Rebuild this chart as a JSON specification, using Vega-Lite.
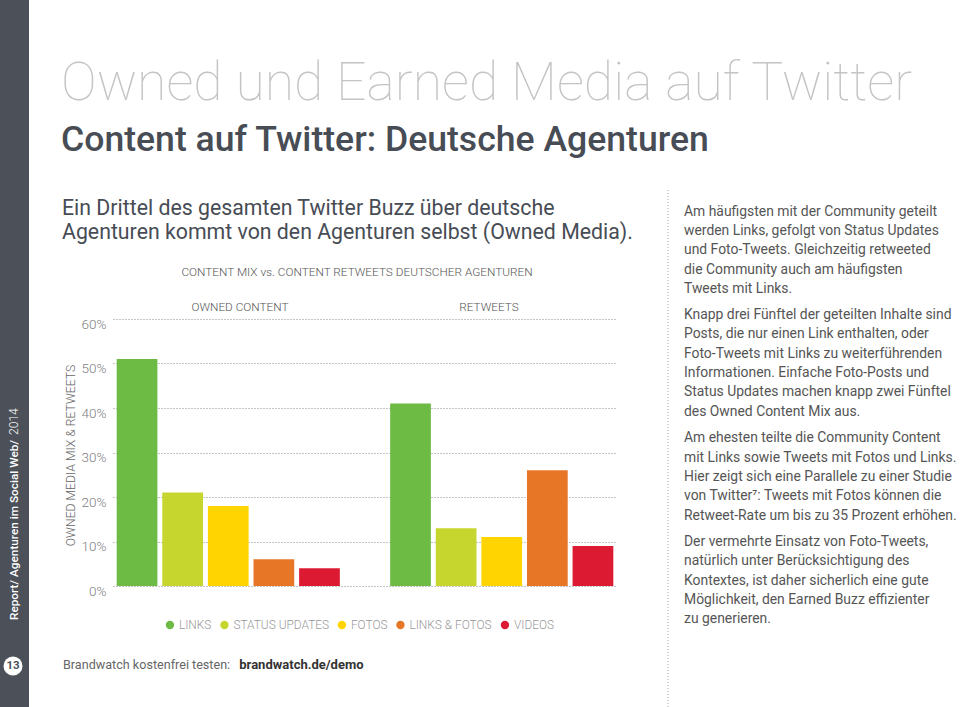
{
  "$schema": "https://vega.github.io/schema/vega-lite/v6.json",
  "autosize": "none",
  "width": 504,
  "height": 267,
  "padding": {"left": 113, "top": 319, "right": 343, "bottom": 121},
  "background": "white",
  "config": {
    "view": {"stroke": null},
    "font": "Roboto",
    "text": {"font": "Roboto"}
  },
  "layer": [
    {
      "data": {"values": [
        {"group": "Owned Content", "type": "LINKS", "value": 51},
        {"group": "Owned Content", "type": "STATUS UPDATES", "value": 21},
        {"group": "Owned Content", "type": "FOTOS", "value": 18},
        {"group": "Owned Content", "type": "LINKS & FOTOS", "value": 6},
        {"group": "Owned Content", "type": "VIDEOS", "value": 4},
        {"group": "Retweets", "type": "LINKS", "value": 41},
        {"group": "Retweets", "type": "STATUS UPDATES", "value": 13},
        {"group": "Retweets", "type": "FOTOS", "value": 11},
        {"group": "Retweets", "type": "LINKS & FOTOS", "value": 26},
        {"group": "Retweets", "type": "VIDEOS", "value": 9}
      ]},
      "mark": {"type": "bar"},
      "encoding": {
        "x": {"field": "group", "type": "nominal", "axis": null,
              "scale": {"domain": ["Owned Content", "Retweets"], "paddingInner": 0.184, "paddingOuter": 0.0135}},
        "xOffset": {"field": "type", "type": "nominal",
              "scale": {"domain": ["LINKS", "STATUS UPDATES", "FOTOS", "LINKS & FOTOS", "VIDEOS"], "paddingInner": 0.107, "paddingOuter": 0}},
        "y": {"field": "value", "type": "quantitative",
              "scale": {"domain": [0, 60], "nice": false},
              "axis": {
                "values": [0, 10, 20, 30, 40, 50, 60],
                "labelExpr": "datum.value + '%'",
                "domain": false, "ticks": false,
                "grid": true, "gridDash": [1, 2], "gridColor": "#8a8a8a", "gridWidth": 1,
                "labelFont": "Roboto", "labelFontWeight": 300, "labelFontSize": 13.5, "labelColor": "#808080",
                "labelPadding": 7, "labelOffset": 5,
                "title": "OWNED MEDIA MIX & RETWEETS",
                "titleFont": "Roboto", "titleFontWeight": 300, "titleFontSize": 12.2, "titleColor": "#666666",
                "titleX": -43, "titleY": 136, "titleAngle": 270, "titleAlign": "center", "titleBaseline": "middle"
              }},
        "color": {"field": "type", "type": "nominal",
              "scale": {"domain": ["LINKS", "STATUS UPDATES", "FOTOS", "LINKS & FOTOS", "VIDEOS"],
                        "range": ["#6dba45", "#c6d62e", "#ffd400", "#e77626", "#dc1a32"]},
              "legend": {
                "orient": "none", "legendX": 51, "legendY": 300, "direction": "horizontal",
                "title": null, "symbolType": "circle", "symbolSize": 70, "symbolStrokeWidth": 0,
                "labelFont": "Roboto", "labelFontWeight": 300, "labelFontSize": 11.9, "labelColor": "#999999",
                "labelOffset": 3, "columnPadding": 6.5, "padding": 0
              }}
      }
    },
    {
      "data": {"values": [{"t": "OWNED CONTENT"}]},
      "mark": {"type": "text", "align": "center", "baseline": "middle", "fontSize": 11.8, "fontWeight": 300, "color": "#555555"},
      "encoding": {"text": {"field": "t"}, "x": {"value": 127}, "y": {"value": -12.3}}
    },
    {
      "data": {"values": [{"t": "RETWEETS"}]},
      "mark": {"type": "text", "align": "center", "baseline": "middle", "fontSize": 11.8, "fontWeight": 300, "color": "#555555"},
      "encoding": {"text": {"field": "t"}, "x": {"value": 376}, "y": {"value": -12.3}}
    },
    {
      "data": {"values": [{"t": "CONTENT MIX vs. CONTENT RETWEETS DEUTSCHER AGENTUREN"}]},
      "mark": {"type": "text", "align": "center", "baseline": "middle", "fontSize": 11.8, "fontWeight": 300, "color": "#555555"},
      "encoding": {"text": {"field": "t"}, "x": {"value": 244}, "y": {"value": -47}}
    },
    {
      "data": {"values": [{"t": "x"}]},
      "mark": {"type": "rect", "color": "#4b5059"},
      "encoding": {"x": {"value": -113}, "x2": {"value": -84}, "y": {"value": -319}, "y2": {"value": 388}}
    },
    {
      "data": {"values": [{"t": "Owned und Earned Media auf Twitter"}]},
      "mark": {"type": "text", "align": "left", "baseline": "alphabetic", "fontSize": 53.5, "fontWeight": 100, "color": "#c4c4c4"},
      "encoding": {"text": {"field": "t"}, "x": {"value": -52}, "y": {"value": -219}}
    },
    {
      "data": {"values": [{"t": "Content auf Twitter: Deutsche Agenturen"}]},
      "mark": {"type": "text", "align": "left", "baseline": "alphabetic", "fontSize": 35.6, "fontWeight": 500, "color": "#474c55"},
      "encoding": {"text": {"field": "t"}, "x": {"value": -52}, "y": {"value": -168}}
    },
    {
      "data": {"values": [{"t": "Ein Drittel des gesamten Twitter Buzz über deutsche\nAgenturen kommt von den Agenturen selbst (Owned Media)."}]},
      "mark": {"type": "text", "align": "left", "baseline": "alphabetic", "fontSize": 21.3, "fontWeight": 400, "color": "#474c55", "lineBreak": "\n", "lineHeight": 24},
      "encoding": {"text": {"field": "t"}, "x": {"value": -51}, "y": {"value": -104.5}}
    },
    {
      "data": {"values": [{"t": "Am häufigsten mit der Community geteilt\nwerden Links, gefolgt von Status Updates\nund Foto-Tweets. Gleichzeitig retweeted\ndie Community auch am häufigsten\nTweets mit Links."}]},
      "mark": {"type": "text", "align": "left", "baseline": "alphabetic", "fontSize": 13.9, "fontWeight": 400, "color": "#555555", "lineBreak": "\n", "lineHeight": 19.35},
      "encoding": {"text": {"field": "t"}, "x": {"value": 571}, "y": {"value": -103.3}}
    },
    {
      "data": {"values": [{"t": "Knapp drei Fünftel der geteilten Inhalte sind\nPosts, die nur einen Link enthalten, oder\nFoto-Tweets mit Links zu weiterführenden\nInformationen. Einfache Foto-Posts und\nStatus Updates machen knapp zwei Fünftel\ndes Owned Content Mix aus."}]},
      "mark": {"type": "text", "align": "left", "baseline": "alphabetic", "fontSize": 13.9, "fontWeight": 400, "color": "#555555", "lineBreak": "\n", "lineHeight": 19.35},
      "encoding": {"text": {"field": "t"}, "x": {"value": 571}, "y": {"value": 0}}
    },
    {
      "data": {"values": [{"t": "Am ehesten teilte die Community Content\nmit Links sowie Tweets mit Fotos und Links.\nHier zeigt sich eine Parallele zu einer Studie\nvon Twitter⁷: Tweets mit Fotos können die\nRetweet-Rate um bis zu 35 Prozent erhöhen."}]},
      "mark": {"type": "text", "align": "left", "baseline": "alphabetic", "fontSize": 13.9, "fontWeight": 400, "color": "#555555", "lineBreak": "\n", "lineHeight": 19.35},
      "encoding": {"text": {"field": "t"}, "x": {"value": 571}, "y": {"value": 123.3}}
    },
    {
      "data": {"values": [{"t": "Der vermehrte Einsatz von Foto-Tweets,\nnatürlich unter Berücksichtigung des\nKontextes, ist daher sicherlich eine gute\nMöglichkeit, den Earned Buzz effizienter\nzu generieren."}]},
      "mark": {"type": "text", "align": "left", "baseline": "alphabetic", "fontSize": 13.9, "fontWeight": 400, "color": "#555555", "lineBreak": "\n", "lineHeight": 19.35},
      "encoding": {"text": {"field": "t"}, "x": {"value": 571}, "y": {"value": 227}}
    },
    {
      "data": {"values": [{"t": "x"}]},
      "mark": {"type": "rule", "color": "#a0a0a0", "strokeDash": [1, 2], "strokeWidth": 1},
      "encoding": {"x": {"value": 555}, "y": {"value": -129}, "y2": {"value": 388}}
    },
    {
      "data": {"values": [{"t": "Brandwatch kostenfrei testen:"}]},
      "mark": {"type": "text", "align": "left", "baseline": "middle", "fontSize": 12.6, "fontWeight": 400, "color": "#666666"},
      "encoding": {"text": {"field": "t"}, "x": {"value": -50}, "y": {"value": 346}}
    },
    {
      "data": {"values": [{"t": "brandwatch.de/demo"}]},
      "mark": {"type": "text", "align": "left", "baseline": "middle", "fontSize": 13, "fontWeight": 700, "color": "#333333"},
      "encoding": {"text": {"field": "t"}, "x": {"value": 126.3}, "y": {"value": 346}}
    },
    {
      "data": {"values": [{"t": "Report/ Agenturen im Social Web/"}]},
      "mark": {"type": "text", "align": "left", "baseline": "middle", "angle": 270, "fontSize": 11.8, "fontWeight": 500, "color": "white"},
      "encoding": {"text": {"field": "t"}, "x": {"value": -99}, "y": {"value": 301}}
    },
    {
      "data": {"values": [{"t": "2014"}]},
      "mark": {"type": "text", "align": "left", "baseline": "middle", "angle": 270, "fontSize": 12.1, "fontWeight": 300, "color": "white"},
      "encoding": {"text": {"field": "t"}, "x": {"value": -99}, "y": {"value": 116}}
    },
    {
      "data": {"values": [{"t": "x"}]},
      "mark": {"type": "point", "shape": "circle", "filled": true, "opacity": 1, "size": 360, "color": "white"},
      "encoding": {"x": {"value": -100}, "y": {"value": 347}}
    },
    {
      "data": {"values": [{"t": "13"}]},
      "mark": {"type": "text", "align": "center", "baseline": "middle", "fontSize": 11.5, "fontWeight": 700, "color": "#4b5059"},
      "encoding": {"text": {"field": "t"}, "x": {"value": -100}, "y": {"value": 347}}
    }
  ]
}
